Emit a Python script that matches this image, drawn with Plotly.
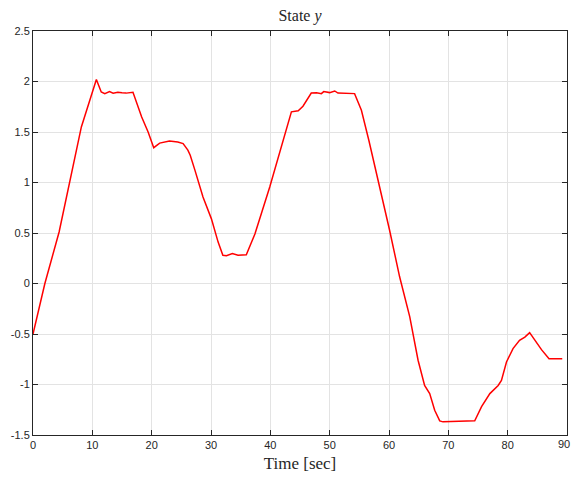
import plotly.graph_objects as go

time_sec = [0.0, 2.0, 4.4, 6.6, 7.6, 8.15, 10.68, 11.5, 12.1, 12.9, 13.5, 14.3, 15.0, 15.7, 16.85,
            18.3, 19.4, 20.35, 21.35, 23.0, 24.4, 25.3, 26.1, 26.5, 27.25, 28.65, 30.07, 31.2, 32.0,
            32.6, 33.6, 34.55, 35.95, 37.4, 39.9, 42.1, 43.55, 44.7, 45.5, 46.9, 47.8, 48.6, 49.0,
            50.0, 50.85, 51.4, 54.2, 55.35, 56.6, 60.1, 61.8, 63.5, 64.9, 66.0, 66.86, 67.7, 68.55,
            69.1, 74.45, 75.6, 77.0, 78.4, 78.95, 79.8, 80.9, 82.0, 82.9, 83.7, 84.55, 85.7, 86.97, 89.2]
state_y = [-0.5, 0.0, 0.51, 1.12, 1.42, 1.55, 2.02, 1.896, 1.88, 1.90, 1.885, 1.893, 1.888, 1.885, 1.893,
           1.65, 1.50, 1.345, 1.39, 1.41, 1.40, 1.385, 1.32, 1.27, 1.13, 0.857, 0.64, 0.41, 0.279,
           0.275, 0.296, 0.28, 0.285, 0.49, 0.955, 1.418, 1.70, 1.71, 1.755, 1.886, 1.888, 1.88, 1.90,
           1.89, 1.906, 1.885, 1.88, 1.715, 1.418, 0.527, 0.064, -0.33, -0.76, -1.01, -1.09, -1.255, -1.36,
           -1.37, -1.36, -1.22, -1.09, -1.01, -0.96, -0.777, -0.645, -0.562, -0.53, -0.486, -0.562, -0.655, -0.745, -0.745]

x_ticks = [0, 10, 20, 30, 40, 50, 60, 70, 80, 90]
x_tick_labels = ["0", "10", "20", "30", "40", "50", "60", "70", "80", "90"]
y_ticks = [-1.5, -1, -0.5, 0, 0.5, 1, 1.5, 2, 2.5]
y_tick_labels = ["-1.5", "-1", "-0.5", "0", "0.5", "1", "1.5", "2", "2.5"]

tick_font = dict(family="Liberation Sans, Arial, sans-serif", size=11, color="#262626")

fig = go.Figure()
fig.add_trace(go.Scatter(x=time_sec, y=state_y, mode="lines",
                         line=dict(color="#ff0000", width=1.5), showlegend=False))

axis_common = dict(showgrid=True, gridcolor="#e3e3e3", gridwidth=1,
                   showline=True, linecolor="#262626", linewidth=1, mirror="ticks",
                   ticks="inside", ticklen=5, tickcolor="#262626",
                   tickfont=tick_font, zeroline=False, automargin=False)

# last x tick label is drawn kept inside the figure edge (as in the reference)
fig.update_xaxes(range=[0, 90], tickvals=x_ticks,
                 ticktext=x_tick_labels[:-1] + [""],
                 title=dict(text="Time [sec]", font=dict(family="Liberation Serif, DejaVu Serif, serif", size=17, color="#262626"),
                            standoff=6),
                 **axis_common)
fig.update_yaxes(range=[-1.5, 2.5], tickvals=y_ticks, ticktext=y_tick_labels, **axis_common)

fig.add_annotation(x=x_ticks[-1], xref="x", y=0, yref="paper", text=x_tick_labels[-1],
                   showarrow=False, xanchor="right", yanchor="top", xshift=4, yshift=-2,
                   font=tick_font, borderpad=0)

fig.update_layout(
    width=571, height=477,
    margin=dict(l=33, r=4, t=31, b=42),
    paper_bgcolor="white", plot_bgcolor="white",
    title=dict(text="State <i>y</i>", x=(33 + 567) / 2 / 571, xanchor="center", y=1 - 15 / 477, yanchor="middle",
               font=dict(family="Liberation Serif, DejaVu Serif, serif", size=16, color="#262626")),
)

fig.write_html("out.html", config={"displayModeBar": False},
               post_script="document.body.style.margin='0';document.body.style.overflow='hidden';")
